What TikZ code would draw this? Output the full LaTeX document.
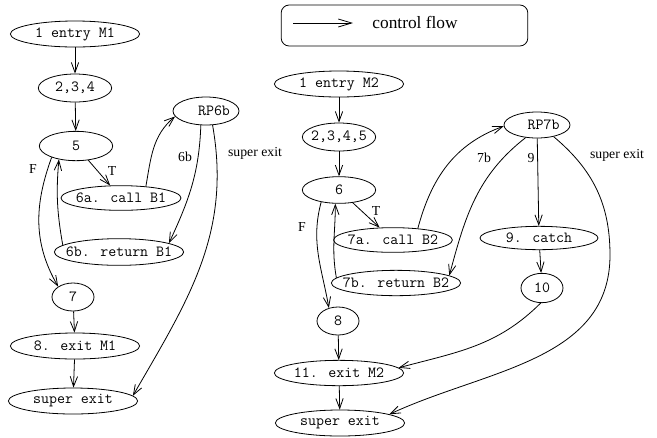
\documentclass[tikz,border=0pt]{standalone}
\usepackage{fontspec}
\setmainfont{Liberation Serif}
\usetikzlibrary{shapes.geometric, arrows.meta}
% keep the text from widening the ellipse
\newcommand{\ntxt}[1]{\makebox[0pt]{#1}}

\begin{document}
\begin{tikzpicture}[x=0.75pt,y=0.75pt,
  nd/.style={ellipse,draw,line width=0.6pt,inner sep=0pt,font=\ttfamily\fontsize{11.6}{13}\selectfont},
  big/.style={nd,minimum width=97pt,minimum height=19.5pt},
  mid/.style={nd,minimum width=55pt,minimum height=21pt},
  sm/.style={nd,minimum width=31.5pt,minimum height=21pt},
  call/.style={nd,minimum width=90pt,minimum height=18.5pt},
  rp/.style={nd,minimum width=49.5pt,minimum height=21pt},
  lbl/.style={font=\fontsize{10.3}{12}\selectfont},
  arr/.style={-{Straight Barb[length=7.5pt,width=5.5pt]},line width=0.6pt}]
  \useasboundingbox (0,0) rectangle (657,-437);
  % legend
  \node[draw,line width=0.6pt,rounded corners=6pt,minimum width=185pt,minimum height=30.75pt] (lgd) at (404.5,-25.5) {};
  \coordinate (la) at (293,-23);
  \coordinate (lb) at (353,-23);
  \draw[line width=0.6pt,-{Straight Barb[length=10pt,width=6pt]}] (la) -- (lb);
  \node[font=\fontsize{13}{15}\selectfont] (lt) at (415,-22) {control flow};
  % method M1
  \node[big](e1) at (75,-34){\ntxt{1 entry M1}};
  \node[mid](n234) at (75,-88){\ntxt{2,3,4}};
  \node[mid,minimum height=22pt](n5) at (76,-146){\ntxt{5}};
  \node[call](c6a) at (121,-198){\ntxt{6a. call B1}};
  \node[rp](rp6b) at (206,-111){\ntxt{\hspace{12pt}RP6b}};
  \node[big,minimum height=20pt](r6b) at (119,-252){\ntxt{6b. return B1}};
  \node[sm](n7) at (73,-297){\ntxt{7}};
  \node[big](x8) at (75,-346){\ntxt{8. exit M1}};
  \node[big](sx1) at (73,-401){\ntxt{super exit}};
  % method M2
  \node[big](e2) at (339,-84){\ntxt{1 entry M2}};
  \node[mid](n2345) at (339,-137){\ntxt{2,3,4,5}};
  \node[mid,minimum height=20pt](n6) at (339,-190){\ntxt{6}};
  \node[call,minimum width=89pt](c7a) at (393,-240){\ntxt{7a. call B2}};
  \node[rp,minimum height=19.5pt](rp7b) at (537,-125){\ntxt{\hspace{10pt}RP7b}};
  \node[big,minimum height=19pt](r7b) at (396,-283){\ntxt{7b. return B2}};
  \node[call,minimum width=88.5pt,minimum height=17.5pt](n9) at (539,-238){\ntxt{9. catch}};
  \node[sm,minimum height=22pt](n10) at (542,-288){\ntxt{10}};
  \node[sm](n8) at (338,-321){\ntxt{8}};
  \node[big,minimum height=19pt](x11) at (339,-373){\ntxt{11. exit M2}};
  \node[big](sx2) at (340,-423){\ntxt{super exit}};
  \foreach \a/\b in {e1/n234,n234/n5,n7/x8,x8/sx1,e2/n2345,n2345/n6,n8/x11,x11/sx2,rp7b/n9,n9/n10}{\draw[arr](\a)--(\b);}
  % M1 edges
  \draw[arr](n5)--(c6a);
  \draw[arr](n5.205) to[out=250,in=120] (n7.145);
  \draw[arr](r6b.173) to[out=100,in=265] (n5.218);
  \draw[arr](c6a.25) to[out=80,in=220] (rp6b.190);
  \draw[arr](rp6b.250) to[out=268,in=65] (r6b.10);
  \draw[arr](rp6b.295) to[out=280,in=60] (sx1.5);
  \node[lbl](lF1) at (33,-169){F};
  \node[lbl](lT1) at (112,-171){T};
  \node[lbl](l6b) at (185,-157){6b};
  \node[lbl](lsx1) at (255,-153){super exit};
  % M2 edges
  \draw[arr](n6)--(c7a);
  \draw[arr](n6.214) to[out=255,in=100] (n8.125);
  \draw[arr](r7b.175) to[out=100,in=270] (n6.255);
  \draw[arr](c7a.25) to[out=75,in=200] (rp7b.182);
  \draw[arr](rp7b.228) to[out=218,in=75] (r7b.8);
  \draw[arr](rp7b.-35) to[out=-40,in=90] (610,-255) to[out=-90,in=25] (sx2.10);
  \draw[arr](n10.265) to[out=225,in=15] (x11.5);
  \node[lbl](lF2) at (302,-227){F};
  \node[lbl](lT2) at (376,-211){T};
  \node[lbl](l7b) at (484,-158){7b};
  \node[lbl](l9) at (531,-158){9};
  \node[lbl](lsx2) at (617,-155){super exit};
\end{tikzpicture}
\end{document}
